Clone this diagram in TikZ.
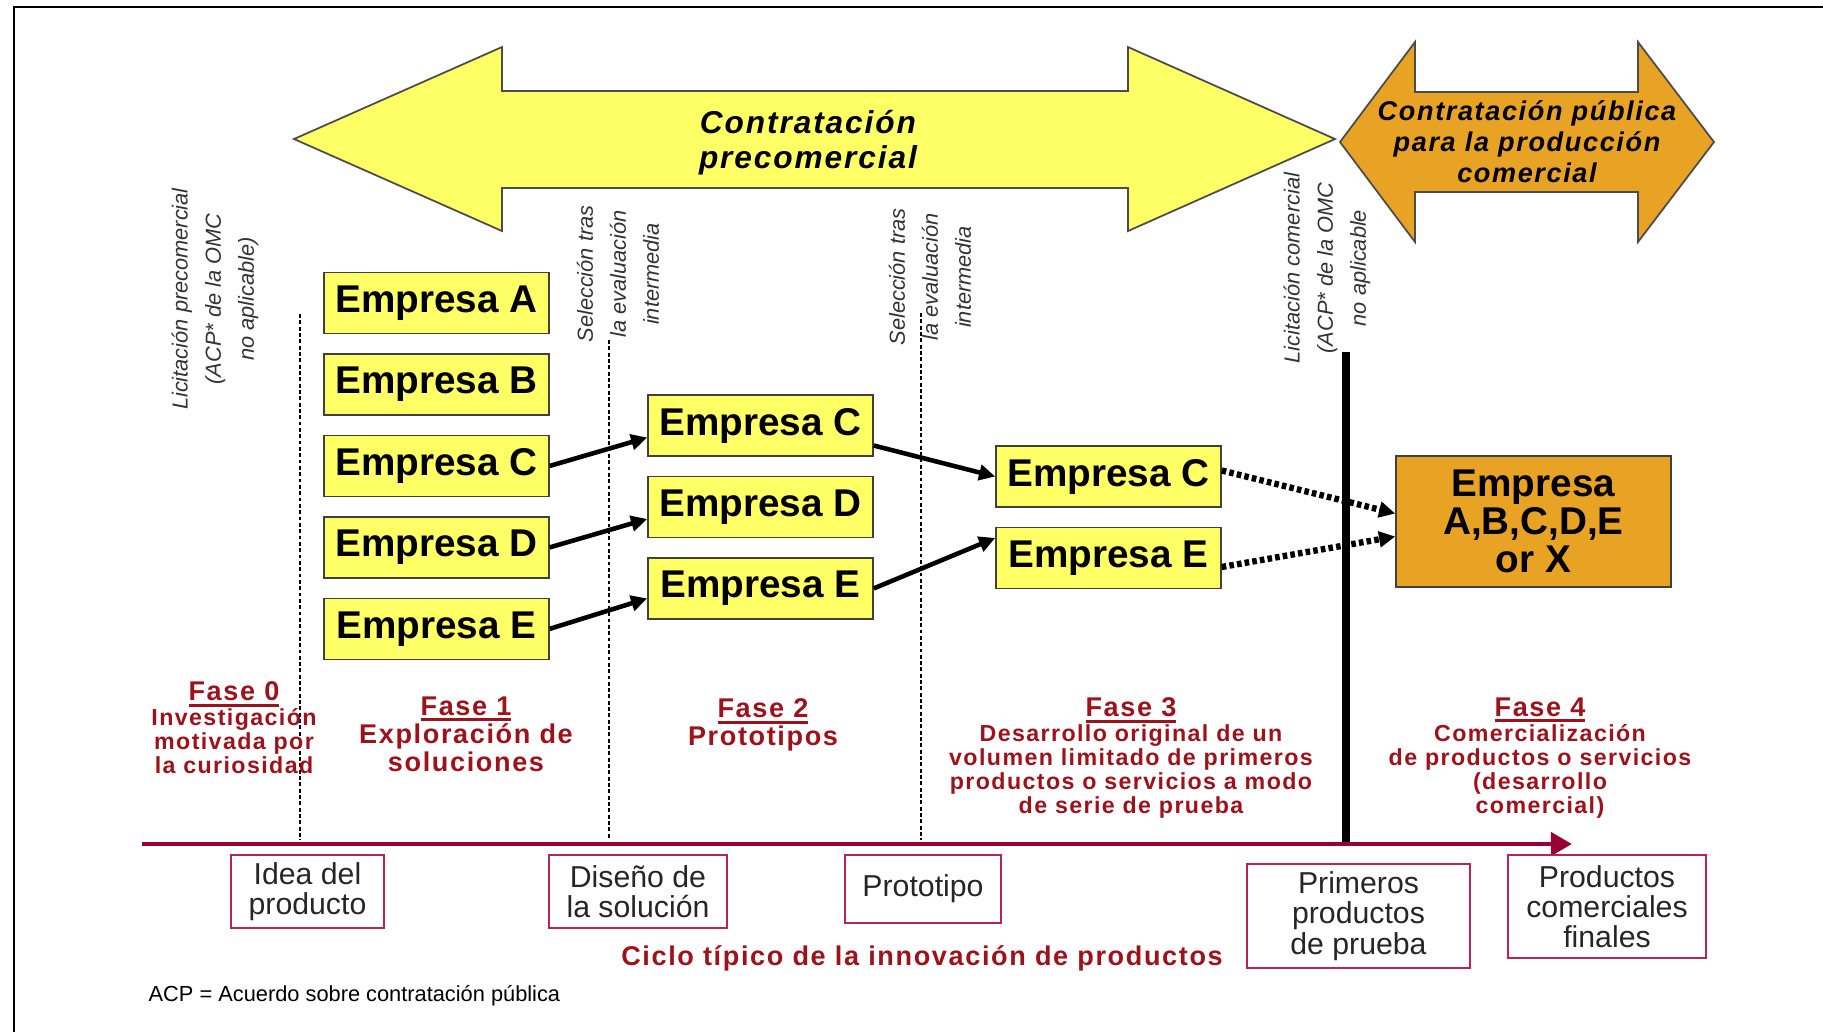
\documentclass[tikz,border=0pt]{standalone}
\usepackage{fontspec}
\setmainfont{Liberation Sans}
\newfontfamily\spacedsf[LetterSpace=6]{Liberation Sans}
\usetikzlibrary{positioning,arrows.meta}
\definecolor{empyellow}{RGB}{255,255,102}
\definecolor{pcporange}{RGB}{232,162,36}
\definecolor{fasered}{RGB}{158,18,28}
\definecolor{cyclebar}{RGB}{153,0,51}
\definecolor{stageline}{RGB}{185,35,85}
\newsavebox\fasebox
\newcommand{\fasehead}[1]{\sbox\fasebox{#1}\rlap{\rule[-1.7pt]{\wd\fasebox}{0.85pt}}\usebox\fasebox}
\tikzset{
	empbox/.style = {rectangle, draw=black!75, fill=empyellow, inner sep=0pt,
		minimum width=2.25cm, minimum height=0.61cm, font=\fontsize{11}{11}\selectfont\bfseries},
	finalbox/.style = {empbox, fill=pcporange, align=center, minimum width=2.75cm,
		minimum height=1.31cm, font=\fontsize{11}{10.8}\selectfont\bfseries},
	stagebox/.style = {rectangle, draw=stageline, line width=0.5pt, inner sep=0pt,
		align=center, text=black!85, font=\fontsize{8.6}{8.6}\selectfont},
	fasetext/.style = {inner sep=0pt, align=center, text=fasered, anchor=north},
	vlabel/.style = {rotate=90, inner sep=0pt, align=center, text=black!80,
		font=\fontsize{6.2}{9.4}\selectfont\itshape},
	conn/.style = {->, line width=1.3pt},
	dotconn/.style = {->, line width=1.8pt, dash pattern=on 1.3pt off 0.9pt},
	sepline/.style = {line width=0.8pt, dash pattern=on 1.1pt off 0.7pt},
	bigarrow/.style = {draw=black!70, line width=0.5pt, line join=miter}
}

\begin{document}
\begin{tikzpicture}[x=0.01cm, y=-0.01cm, >={Triangle[length=4.6pt,width=4.4pt]}, node distance=1.9mm]
\useasboundingbox (0,0) rectangle (1823,1032);
\draw[line width=0.7pt] (14,1032) -- (14,7) -- (1823,7);
%----------------- Procurement arrows --------------
\filldraw[bigarrow, fill=empyellow] (294,139) -- (502,47) -- (502,91) -- (1128,91) -- (1128,47)
	-- (1335,139) -- (1128,231) -- (1128,188) -- (502,188) -- (502,231) -- cycle;
\filldraw[bigarrow, fill=pcporange] (1340,142) -- (1415,42) -- (1415,92) -- (1638,92) -- (1638,42)
	-- (1714,142) -- (1638,242) -- (1638,192) -- (1415,192) -- (1415,242) -- cycle;
\node (pcp) at (808,143) [align=center, font=\fontsize{9}{10}\selectfont\spacedsf\bfseries\itshape]
	{Contratación\\precomercial};
\node (ppc) at (1527,142) [align=center, font=\fontsize{7.7}{8.8}\selectfont\spacedsf\bfseries\itshape]
	{Contratación pública\\para la producción\\comercial};
%----------------- Milestone labels --------------
\node (lic0) at (215,299) [vlabel] {Licitación precomercial\\(ACP* de la OMC\\no aplicable)};
\node (sel1) at (618,274) [vlabel] {Selección tras\\la evaluación\\intermedia};
\node (sel2) at (930,277) [vlabel] {Selección tras\\la evaluación\\intermedia};
\node (lic4) at (1327,268) [vlabel] {Licitación comercial\\(ACP* de la OMC\\no aplicable};
\foreach \x/\t in {300/314, 609/340, 921/313}
	\draw[sepline] (\x,\t) -- (\x,840);
\draw[line width=2.3pt] (1346,352) -- (1346,843);
%----------------- Companies --------------
\node (A1) at (436.5,303) [empbox] {Empresa A};
\node (B1) [empbox, below=of A1] {Empresa B};
\node (C1) [empbox, below=of B1] {Empresa C};
\node (D1) [empbox, below=of C1] {Empresa D};
\node (E1) [empbox, below=of D1] {Empresa E};
\node (C2) at (760.5,425.5) [empbox] {Empresa C};
\node (D2) [empbox, below=of C2] {Empresa D};
\node (E2) [empbox, below=of D2] {Empresa E};
\node (C3) at (1108.5,476.5) [empbox] {Empresa C};
\node (E3) [empbox, below=of C3] {Empresa E};
\node (emp) at (1533.5,521.5) [finalbox] {Empresa\\A,B,C,D,E\\or X};
\draw[conn] (C1.east) -- ([yshift=-1.2mm]C2.west);
\draw[conn] (D1.east) -- ([yshift=-1.2mm]D2.west);
\draw[conn] (E1.east) -- ([yshift=-1mm]E2.west);
\draw[conn] ([yshift=-2mm]C2.east) -- (C3.west);
\draw[conn] (E2.east) -- ([yshift=2mm]E3.west);
\draw[dotconn] ([yshift=0.6mm]C3.east) -- ([yshift=0.8mm]emp.west);
\draw[dotconn] ([yshift=-0.9mm]E3.east) -- ([yshift=-1.5mm]emp.west);
%----------------- Phases --------------
\node (f0) at (234,681) [fasetext, font=\fontsize{6.6}{6.8}\selectfont\spacedsf\bfseries]
	{{\fontsize{7.7}{7.7}\selectfont\fasehead{Fase 0}}\\[0.4pt]Investigación\\motivada por\\la curiosidad};
\node (f1) at (466,696) [fasetext, font=\fontsize{7.7}{8}\selectfont\spacedsf\bfseries]
	{\fasehead{Fase 1}\\Exploración de\\soluciones};
\node (f2) at (763,698) [fasetext, font=\fontsize{7.7}{8}\selectfont\spacedsf\bfseries]
	{\fasehead{Fase 2}\\Prototipos};
\node (f3) at (1131,697) [fasetext, font=\fontsize{6.6}{6.8}\selectfont\spacedsf\bfseries]
	{{\fontsize{7.7}{7.7}\selectfont\fasehead{Fase 3}}\\[0.4pt]Desarrollo original de un\\volumen limitado de primeros\\productos o servicios a modo\\de serie de prueba};
\node (f4) at (1540,697) [fasetext, font=\fontsize{6.6}{6.8}\selectfont\spacedsf\bfseries]
	{{\fontsize{7.7}{7.7}\selectfont\fasehead{Fase 4}}\\[0.4pt]Comercialización\\de productos o servicios\\(desarrollo\\comercial)};
%----------------- Product cycle --------------
\draw[cyclebar, line width=1.4pt, -{Triangle[length=6pt,width=6.5pt]}] (142,844) -- (1572,844);
\node (idea) at (307.5,891.5) [stagebox, minimum width=1.53cm, minimum height=0.73cm] {Idea del\\producto};
\node (diseno) at (638,891.5) [stagebox, minimum width=1.78cm, minimum height=0.73cm] {Diseño de\\la solución};
\node (proto) at (923,889) [stagebox, minimum width=1.56cm, minimum height=0.68cm] {Prototipo};
\node (prim) at (1358.5,916) [stagebox, minimum width=2.23cm, minimum height=1.04cm] {Primeros\\productos\\de prueba};
\node (finales) at (1607,906.5) [stagebox, minimum width=1.98cm, minimum height=1.03cm] {Productos\\comerciales\\finales};
\node (ciclo) at (922,958) [text=fasered, font=\fontsize{7.7}{8}\selectfont\spacedsf\bfseries]
	{Ciclo típico de la innovación de productos};
\node (acp) at (148,996) [anchor=west, inner sep=0pt, font=\fontsize{6.2}{7}\selectfont]
	{ACP = Acuerdo sobre contratación pública};
\end{tikzpicture}
\end{document}
